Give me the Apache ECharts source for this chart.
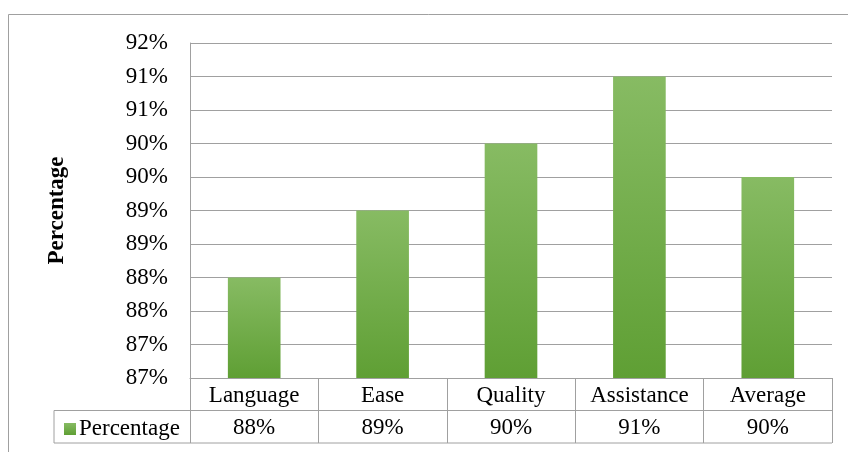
<!DOCTYPE html>
<html>
<head>
<meta charset="utf-8">
<script src="https://cdn.jsdelivr.net/npm/echarts@6/dist/echarts.min.js"></script>
<style>
html,body{margin:0;padding:0;background:#fff;}
#c{width:848px;height:452px;}
</style>
</head>
<body>
<div id="c"></div>
<script>
var categories = ['Language', 'Ease', 'Quality', 'Assistance', 'Average'];
var seriesName = 'Percentage';
var values = [88.0, 89.0, 90.0, 91.0, 89.5];
var yMin = 86.5, yMax = 91.5, yStep = 0.5;

var G = {left: 190, right: 16, top: 43, bottom: 74};
var W = 848, H = 452;
var gridBottomY = H - G.bottom;   // 378
var rowH = 32.5;
var tableLeft = 54;
var lineColor = '#a0a0a0';
var font = '"Liberation Serif", "Times New Roman", serif';
var fs = 23;

var chart = echarts.init(document.getElementById('c'));
var option = {
  animation: false,
  backgroundColor: '#fff',
  grid: {left: G.left, right: G.right, top: G.top, bottom: G.bottom, containLabel: false},
  legend: {
    data: [seriesName],
    left: tableLeft + 5,
    top: gridBottomY + rowH + 2,
    itemWidth: 12, itemHeight: 12, itemGap: 5,
    icon: 'rect',
    textStyle: {fontFamily: font, fontSize: fs, color: '#000', padding: [0,0,0,-2]}
  },
  xAxis: [{
    type: 'category',
    data: categories,
    axisLine: {show: true, lineStyle: {color: lineColor, width: 1}},
    axisTick: {show: true, length: rowH * 2, lineStyle: {color: lineColor, width: 1}},
    axisLabel: {fontFamily: font, fontSize: fs, color: '#000', margin: 6}
  }, {
    type: 'category',
    data: categories,
    position: 'bottom',
    offset: rowH,
    axisLine: {show: false},
    axisTick: {show: false},
    axisLabel: {fontFamily: font, fontSize: fs, color: '#000', margin: 6,
      formatter: function (v, i) { return Math.round(values[i]) + '%'; }}
  }],
  yAxis: {
    type: 'value',
    min: yMin, max: yMax, interval: yStep,
    name: seriesName,
    nameLocation: 'middle',
    nameGap: 121,
    nameRotate: 90,
    nameTextStyle: {fontFamily: font, fontSize: fs, fontWeight: 'bold', color: '#000'},
    axisLine: {show: true, lineStyle: {color: lineColor, width: 1}},
    axisTick: {show: false},
    splitLine: {show: true, lineStyle: {color: lineColor, width: 1}},
    axisLabel: {fontFamily: font, fontSize: fs, color: '#000', margin: 22,
      formatter: function (v) { return Math.round(v) + '%'; }}
  },
  series: [{
    name: seriesName,
    type: 'bar',
    data: values,
    barWidth: '41%',
    itemStyle: {
      color: new echarts.graphic.LinearGradient(0, 0, 0, 1, [
        {offset: 0, color: '#87bb63'},
        {offset: 1, color: '#5f9f34'}
      ])
    }
  }],
  graphic: [
    {type: 'rect', shape: {x: 8.5, y: 14.5, width: 900, height: 500}, style: {fill: 'none', stroke: '#a0a0a0', lineWidth: 1}, silent: true},
    {type: 'line', shape: {x1: tableLeft, y1: gridBottomY + rowH, x2: W - G.right, y2: gridBottomY + rowH}, style: {stroke: lineColor, lineWidth: 1}},
    {type: 'line', shape: {x1: tableLeft, y1: gridBottomY + rowH * 2, x2: W - G.right, y2: gridBottomY + rowH * 2}, style: {stroke: lineColor, lineWidth: 1}},
    {type: 'line', shape: {x1: tableLeft, y1: gridBottomY + rowH, x2: tableLeft, y2: gridBottomY + rowH * 2}, style: {stroke: lineColor, lineWidth: 1}}
  ]
};
chart.setOption(option);
</script>
</body>
</html>
